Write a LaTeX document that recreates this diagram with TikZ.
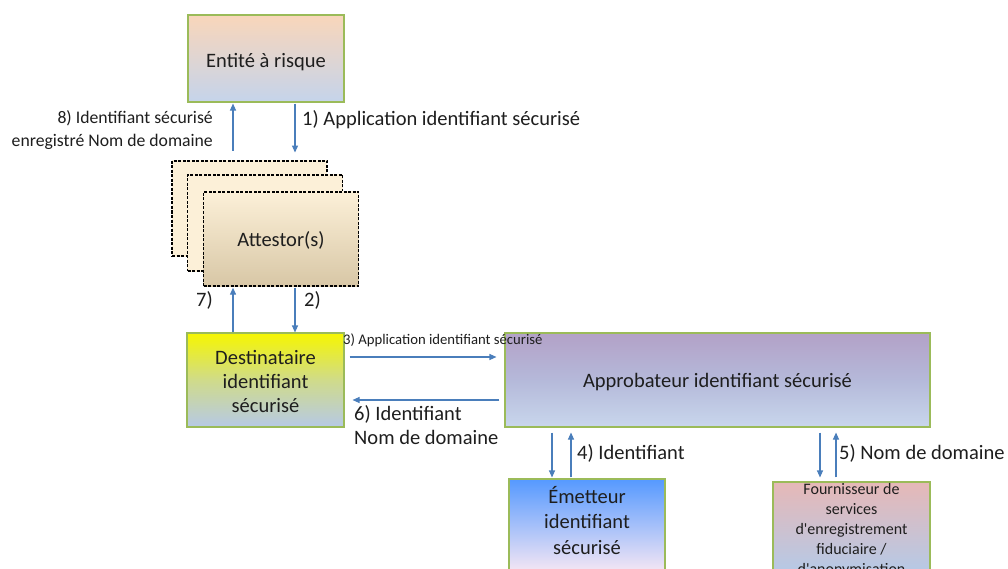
\documentclass[tikz,border=0pt]{standalone}
\usepackage{fontspec}
\setmainfont{Carlito}
\usetikzlibrary{arrows.meta}
\definecolor{edgegreen}{HTML}{9BBB59}
\definecolor{arrblue}{HTML}{4A7EBB}
\definecolor{peach}{HTML}{F9D6BA}
\definecolor{lblue}{HTML}{B6C9E6}
\definecolor{cream}{HTML}{FCF0D8}
\definecolor{tan}{HTML}{D8C7A6}
\definecolor{yel}{HTML}{F6F600}
\definecolor{purp}{HTML}{B3A1C7}
\definecolor{vblue}{HTML}{5599FF}
\definecolor{pinkw}{HTML}{F4E6F4}
\definecolor{rose}{HTML}{E6B8B7}
\definecolor{txt}{HTML}{1E1E1E}
\tikzset{
  box/.style={draw=edgegreen, line width=1.1pt, minimum width=#1, inner sep=0pt},
  att/.style={draw=black, line width=1.3pt, dash pattern=on 3pt off 1.5pt, minimum width=155pt, inner sep=0pt, top color=cream, bottom color=cream},
  arr/.style={draw=arrblue, line width=1.1pt, -{Triangle[length=7pt,width=6pt]}},
  big/.style={font=\fontsize{20.5}{24}\selectfont, text=txt},
  mid/.style={font=\fontsize{17.7}{23}\selectfont, text=txt},
  sml/.style={font=\fontsize{14.7}{16}\selectfont, text=txt, inner sep=0pt},
}
\begin{document}
\begin{tikzpicture}[x=1pt,y=1pt]
\clip (0,0) rectangle (1008,-569);
\fill[white] (0,0) rectangle (1008,-569);
% boxes
\node[box=156pt, minimum height=87pt, top color=peach, bottom color=lblue!80!white] (ent) at (266,-58.5) {};
\node[big, inner sep=0pt] (entt) at (266,-62) {Entité à risque};
\node[att, minimum height=95pt] (att1) at (249.5,-208.5) {};
\node[att, minimum height=96pt] (att2) at (265,-223) {};
\node[att, minimum height=94pt, top color=cream, bottom color=tan] (att3) at (281,-239) {};
\node[big, inner sep=0pt] (att3t) at (281,-240.5) {Attestor(s)};
\node[box=157pt, minimum height=94pt, top color=yel, bottom color=lblue, middle color=yel!40!lblue] (dest) at (265.5,-380) {};
\node[big, align=center, inner sep=0pt] (destt) at (265.5,-381) {Destinataire\\identifiant\\sécurisé};
\node[box=425pt, minimum height=94pt, top color=purp, bottom color=lblue!75!white, middle color=purp!40!lblue] (appr) at (717.5,-380) {};
\node[big, inner sep=0pt] (apprt) at (717.5,-382.5) {Approbateur identifiant sécurisé};
\node[box=156pt, minimum height=92pt, top color=vblue, bottom color=pinkw] (emet) at (587,-525) {};
\node[align=center, anchor=north, inner sep=0pt, font=\fontsize{20.5}{25.5}\selectfont, text=txt] (emett) at (587,-486) {Émetteur\\identifiant\\sécurisé};
\node[box=157pt, minimum height=89pt, top color=rose, bottom color=lblue] (four) at (851.5,-526.5) {};
\node[align=center, anchor=north, inner sep=0pt, font=\fontsize{16}{20}\selectfont, text=txt] (fourt) at (851.5,-483) {Fournisseur de\\services\\d\textquotesingle enregistrement\\fiduciaire /\\d\textquotesingle anonymisation};
% arrows
\draw[arr] ([xshift=-33pt,yshift=-48pt]ent.south) -- ([xshift=-33pt,yshift=-1pt]ent.south);
\draw[arr] ([xshift=29pt,yshift=-1pt]ent.south) -- ([xshift=29pt,yshift=-50pt]ent.south);
\draw[arr] ([xshift=-32.5pt]dest.north) -- ([xshift=-48pt,yshift=-1pt]att3.south);
\draw[arr] ([xshift=14pt,yshift=-1pt]att3.south) -- ([xshift=29.5pt]dest.north);
\draw[arr] ([xshift=5pt,yshift=23pt]dest.east) -- ([xshift=-8pt,yshift=23pt]appr.west);
\draw[arr] ([xshift=-5pt,yshift=-20pt]appr.west) -- ([xshift=8pt,yshift=-20pt]dest.east);
\draw[arr] ([xshift=-165.5pt,yshift=-5pt]appr.south) -- ([xshift=-35pt,yshift=1pt]emet.north);
\draw[arr] ([xshift=-16pt,yshift=1pt]emet.north) -- ([xshift=-146.5pt,yshift=-5pt]appr.south);
\draw[arr] ([xshift=102.5pt,yshift=-5pt]appr.south) -- ([xshift=-31.5pt,yshift=4pt]four.north);
\draw[arr] ([xshift=-15.5pt,yshift=4pt]four.north) -- ([xshift=118.5pt,yshift=-5pt]appr.south);
% labels
\node[mid, align=right, anchor=east, inner sep=0pt] (l8) at (213,-130) {8) Identifiant sécurisé\\enregistré Nom de domaine};
\node[big, anchor=west, inner sep=0pt] (l1) at (302,-120) {1) Application identifiant sécurisé};
\node[big, anchor=west, inner sep=0pt] (l7) at (196,-300) {7)};
\node[big, anchor=west, inner sep=0pt] (l2) at (304,-300) {2)};
\node[sml, anchor=west] (l3) at (343,-340) {3) Application identifiant sécurisé};
\node[big, align=left, anchor=west, inner sep=0pt] (l6) at (354,-425.5) {6) Identifiant\\Nom de domaine};
\node[big, anchor=west, inner sep=0pt] (l4) at (577,-453) {4) Identifiant};
\node[big, anchor=west, inner sep=0pt] (l5) at (839,-453) {5) Nom de domaine};
\end{tikzpicture}
\end{document}
